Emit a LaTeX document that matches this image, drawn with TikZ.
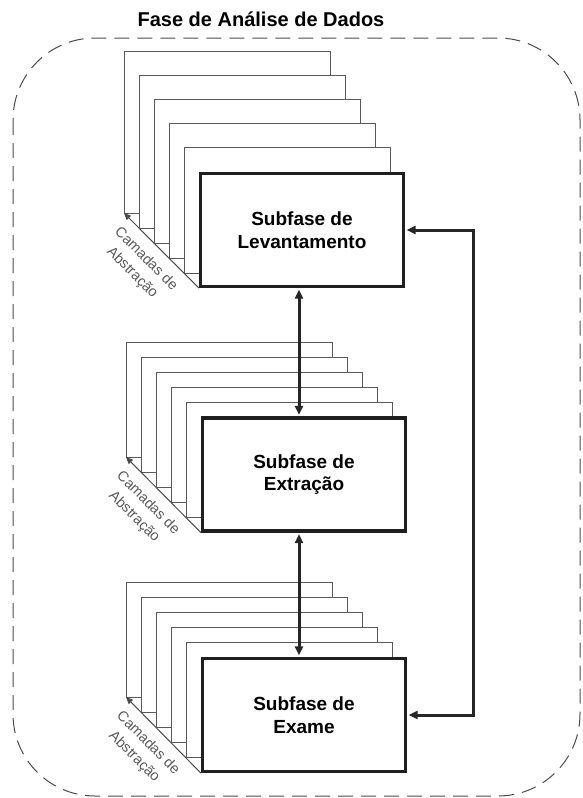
\documentclass[tikz,border=0pt]{standalone}
\usepackage{fontspec}
\setmainfont{Liberation Sans}
\usetikzlibrary{arrows.meta}
\begin{document}
\begin{tikzpicture}[x=1pt,y=-1pt,
  frame/.style={draw=black!70,line width=1pt,dash pattern=on 15pt off 8pt,rounded corners=82pt},
  layer/.style={draw=black!65,fill=white,line width=0.9pt},
  subfase/.style={draw=black!88,line width=3.2pt,fill=white,minimum width=203pt,
    minimum height=113pt,align=center,inner sep=0pt,
    font=\fontsize{19}{22.5}\selectfont\bfseries},
  link/.style={draw=black!85,line width=3pt,shorten <=1.6pt,shorten >=1.6pt,
    {Triangle[length=9pt,width=8pt]}-{Triangle[length=9pt,width=8pt]}},
  depth/.style={draw=black!70,line width=1pt,-{Triangle[length=7pt,width=6pt]}},
  layerlabel/.style={text=black!65,rotate=-45,align=center,inner sep=0pt,
    font=\fontsize{14.5}{19.5}\selectfont}]

\useasboundingbox (0,0) rectangle (582,798);

% outer phase frame and its title
\draw[frame] (13,38) rectangle (580,796);
\node[font=\fontsize{20}{24}\selectfont\bfseries,anchor=base] (title) at (261,26) {Fase de Análise de Dados};

% stacks of abstraction layers behind each sub-phase (back to front)
\foreach \i in {5,...,1}{
  \filldraw[layer] ({199-15*\i},{172-24.2*\i}) rectangle ({405-15*\i},{288-15*\i});
  \filldraw[layer] ({201-15*\i},{417-15*\i}) rectangle ({407-15*\i},{532-15*\i});
  \filldraw[layer] ({201-15*\i},{658-15.2*\i}) rectangle ({407-15*\i},{772-15*\i});
}

% sub-phases
\node[subfase] (levant) at (302,230) {Subfase de\\Levantamento};
\node[subfase] (extr)   at (304,474.5) {Subfase de\\Extração};
\node[subfase] (exame)  at (304,715) {Subfase de\\Exame};

% depth arrows along the stacks
\coordinate (levback) at (124,213);
\coordinate (extback) at (126,457);
\coordinate (exaback) at (126,697);
\draw[depth] (levant.south west) -- (levback);
\draw[depth] (extr.south west) -- (extback);
\draw[depth] (exame.south west) -- (exaback);

\node[layerlabel] (lablev) at (139,266) {Camadas de\\Abstração};
\node[layerlabel] (labext) at (141,510) {Camadas de\\Abstração};
\node[layerlabel] (labexa) at (141,750) {Camadas de\\Abstração};

% connections between sub-phases
\draw[link] ([xshift=-3pt]levant.south) -- ([xshift=-5pt]extr.north);
\draw[link] ([xshift=-5pt]extr.south) -- ([xshift=-5pt]exame.north);
\coordinate (rail) at (473,0);
\draw[link] (levant.east) -- (levant.east -| rail) |- (exame.east);
\end{tikzpicture}
\end{document}
